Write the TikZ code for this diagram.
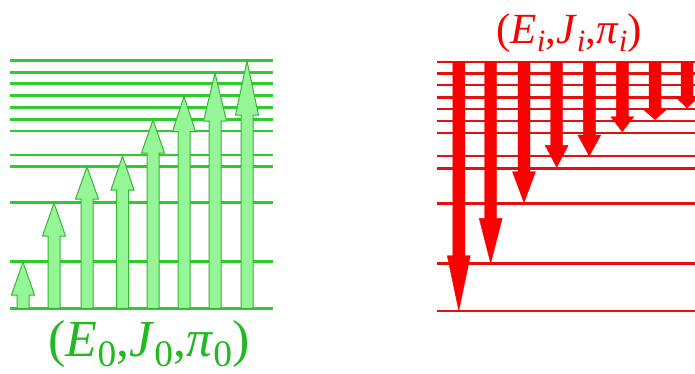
\documentclass[tikz,border=0pt]{standalone}
\usepackage{fontspec}
\setmainfont{Liberation Serif}
\definecolor{gline}{RGB}{45,205,45}
\definecolor{gfill}{RGB}{150,245,150}
\definecolor{gedge}{RGB}{50,185,50}
\definecolor{gtext}{RGB}{35,185,35}
\definecolor{rline}{RGB}{230,15,15}
\definecolor{rfill}{RGB}{250,0,0}
\tikzset{
  glevel/.style={draw=gline, line width=2.8pt},
  rlevel/.style={draw=rline, line width=2.4pt},
  garrowstyle/.style={fill=gfill, draw=gedge, line width=1pt, line join=miter},
  rarrowstyle/.style={fill=rfill, draw=rfill, line width=0.4pt},
}
\newcommand{\greenup}[3]{% x, tip, head length
  \draw[garrowstyle] (#1-6,308.3) -- (#1-6,#2+#3) -- (#1-11.5,#2+#3) -- (#1,#2)
     -- (#1+11.5,#2+#3) -- (#1+6,#2+#3) -- (#1+6,308.3) -- cycle;}
\newcommand{\reddown}[3]{% x, tip, head length
  \draw[rarrowstyle] (#1-6,61.7) -- (#1-6,#2-#3) -- (#1-11.5,#2-#3) -- (#1,#2)
     -- (#1+11.5,#2-#3) -- (#1+6,#2-#3) -- (#1+6,61.7) -- cycle;}
\newcommand{\lowsub}[1]{\raisebox{-0.2em}{\scalebox{0.72}{#1}}}
\begin{document}
\begin{tikzpicture}[x=1pt,y=-1pt]
\useasboundingbox (0,0) rectangle (695,373);
\clip (0,0) rectangle (695,373);
% green levels
\foreach \y in {60.7,72.3,83.7,95.3,107.3,119.3,131,155,166.7,202.7,261.3,308.3}
  \draw[glevel] (10,\y) -- (272.7,\y);
% green arrows
\greenup{23}{262}{33}
\greenup{54}{203}{33}
\greenup{87}{167}{32}
\greenup{122.5}{156}{34}
\greenup{153}{120}{33}
\greenup{184}{96.5}{35}
\greenup{215}{73}{48}
\greenup{247}{61}{54}
% red levels
\foreach \y in {61.7,73.3,85,97.3,109,121,132.7,156,168.3,203.3,263.3,310.7}
  \draw[rlevel] (437,\y) -- (700,\y);
% red arrows
\reddown{458.8}{310.7}{55}
\reddown{490.7}{263.3}{45}
\reddown{524}{202.7}{31}
\reddown{556.7}{167.3}{22}
\reddown{589.3}{156}{21}
\reddown{622.3}{131.7}{15}
\reddown{655}{119.5}{10}
\reddown{687}{108}{11}
% labels
\node[text=gtext, anchor=base, inner sep=0pt] (ground) at (149,356)
  {\fontsize{52}{58}\selectfont(\textit{E}\lowsub{0},\textit{J}\lowsub{0},\textit{π}\lowsub{0})};
\node[text=rfill, anchor=base, inner sep=0pt] (initial) at (569,43)
  {\fontsize{43}{48}\selectfont(\textit{E}\lowsub{\textit{i}},\textit{J}\lowsub{\textit{i}},\textit{π}\lowsub{\textit{i}})};
\end{tikzpicture}
\end{document}
